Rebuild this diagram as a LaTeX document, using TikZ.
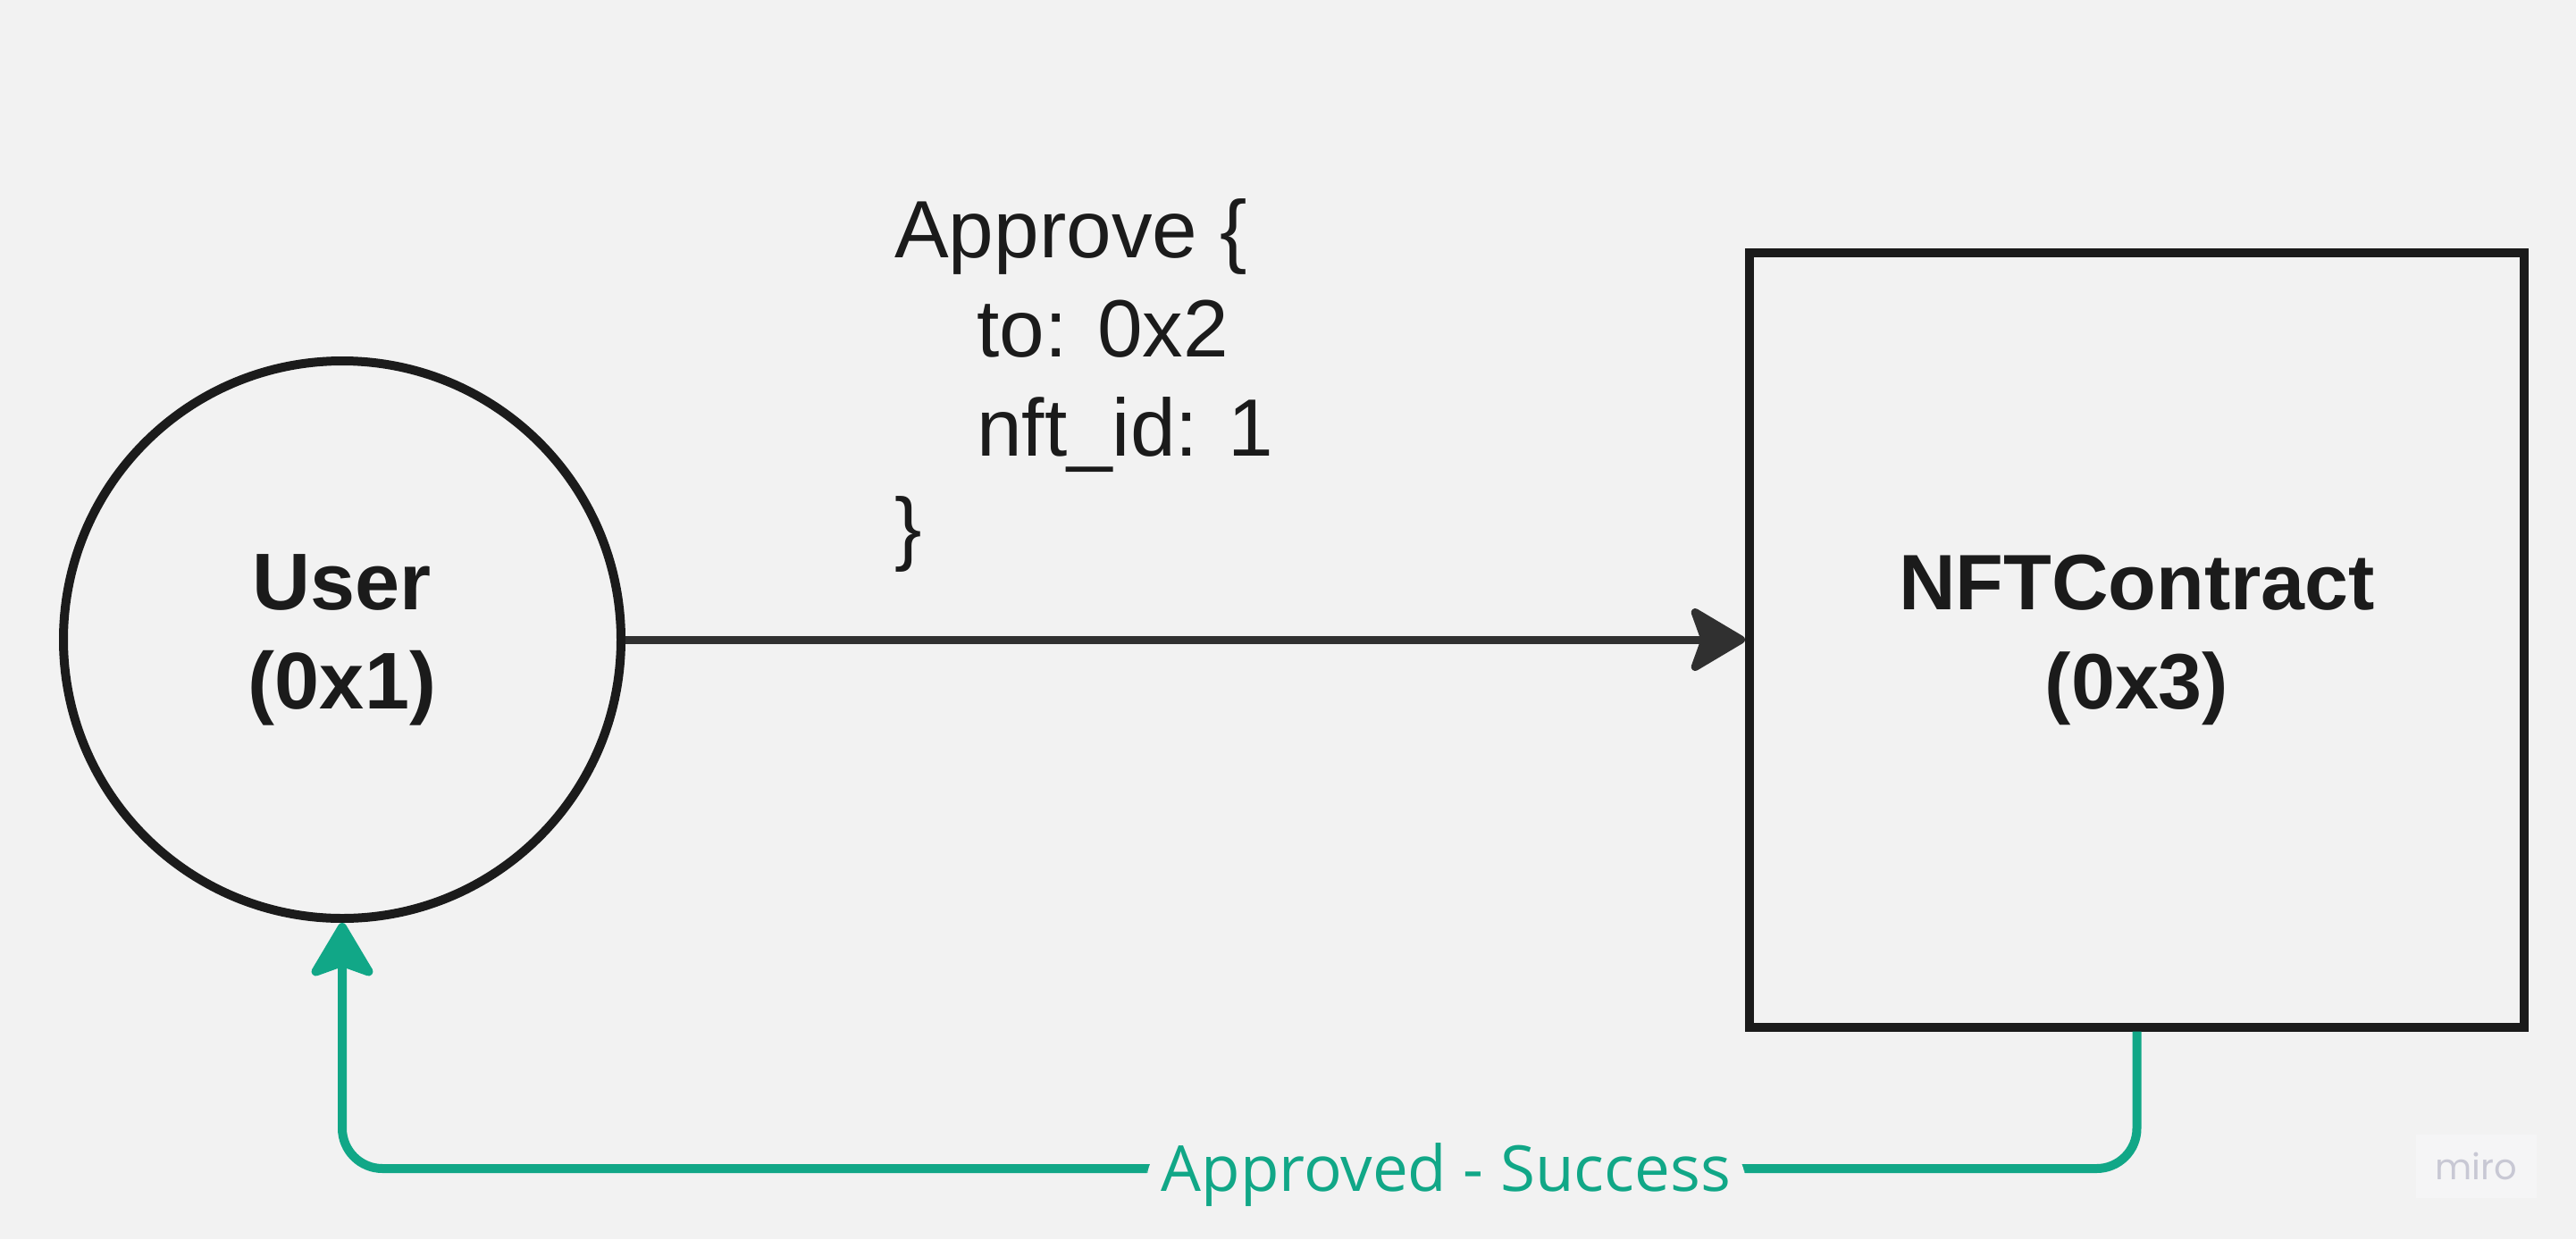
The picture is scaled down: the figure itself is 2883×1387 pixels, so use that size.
\documentclass[tikz,border=0pt]{standalone}
\usepackage{fontspec}
\setmainfont{Liberation Sans}
\newfontfamily\lblfont{Open Sans}
\newfontfamily\wmfont{Poppins}
\usetikzlibrary{arrows.meta,positioning}
\definecolor{canvas}{RGB}{242,242,242}
\definecolor{inkdark}{RGB}{27,27,27}
\definecolor{arrowink}{RGB}{48,48,48}
\definecolor{okgreen}{RGB}{17,167,135}
\definecolor{wmgray}{RGB}{200,200,212}
\definecolor{wmbox}{RGB}{245,245,246}
\tikzset{
  actor/.style={circle, draw=inkdark, line width=10pt,
    minimum size=624pt, inner sep=0pt, align=center,
    font=\fontsize{90}{111}\selectfont\bfseries, text=inkdark},
  chain/.style={rectangle, draw=inkdark, line width=10pt,
    minimum width=867pt, minimum height=867pt, inner sep=0pt, align=center,
    font=\fontsize{88}{111}\selectfont\bfseries, text=inkdark},
  msg/.style={inner sep=0pt, align=left, anchor=north west,
    font=\fontsize{91}{111}\selectfont, text=inkdark},
  arr/.style={-{Stealth[length=68pt, width=80pt, inset=14pt, round]},
    line width=9pt, color=arrowink},
  okarr/.style={-{Stealth[length=68pt, width=80pt, inset=14pt, round]},
    line width=10pt, color=okgreen, rounded corners=45pt},
  oklbl/.style={fill=canvas, inner xsep=16pt, inner ysep=4pt, yshift=-7pt,
    font=\lblfont\fontsize{71}{71}\selectfont, text=okgreen},
  wmark/.style={fill=wmbox, text=wmgray, inner sep=0pt,
    minimum width=135pt, minimum height=71pt,
    font=\wmfont\fontsize{40}{40}\selectfont}
}
\begin{document}
\begin{tikzpicture}[x=1pt, y=-1pt, node distance=1253pt]
\fill[canvas] (0,0) rectangle (2883,1387);

\node[actor] (user) at (383,716) {User\\(0x1)};
\node[chain, right=of user] (nft) {NFTContract\\(0x3)};
\node[msg] (call) at (1001,222)
  {Approve \{\\\hspace*{92pt}to: 0x2\\\hspace*{92pt}nft\_id: 1\\\}};
\coordinate (low) at (0,1308);

%% request
\draw[arr] (user.east) -- (nft.west);
%% response back to the user
\draw[okarr] (nft.south) -- (nft.south |- low)
  -- node[oklbl, pos=0.385] (done) {Approved - Success} (user.south |- low)
  -- (user.south);

\node[wmark] (miro) at (2771,1305) {miro};
\end{tikzpicture}
\end{document}
